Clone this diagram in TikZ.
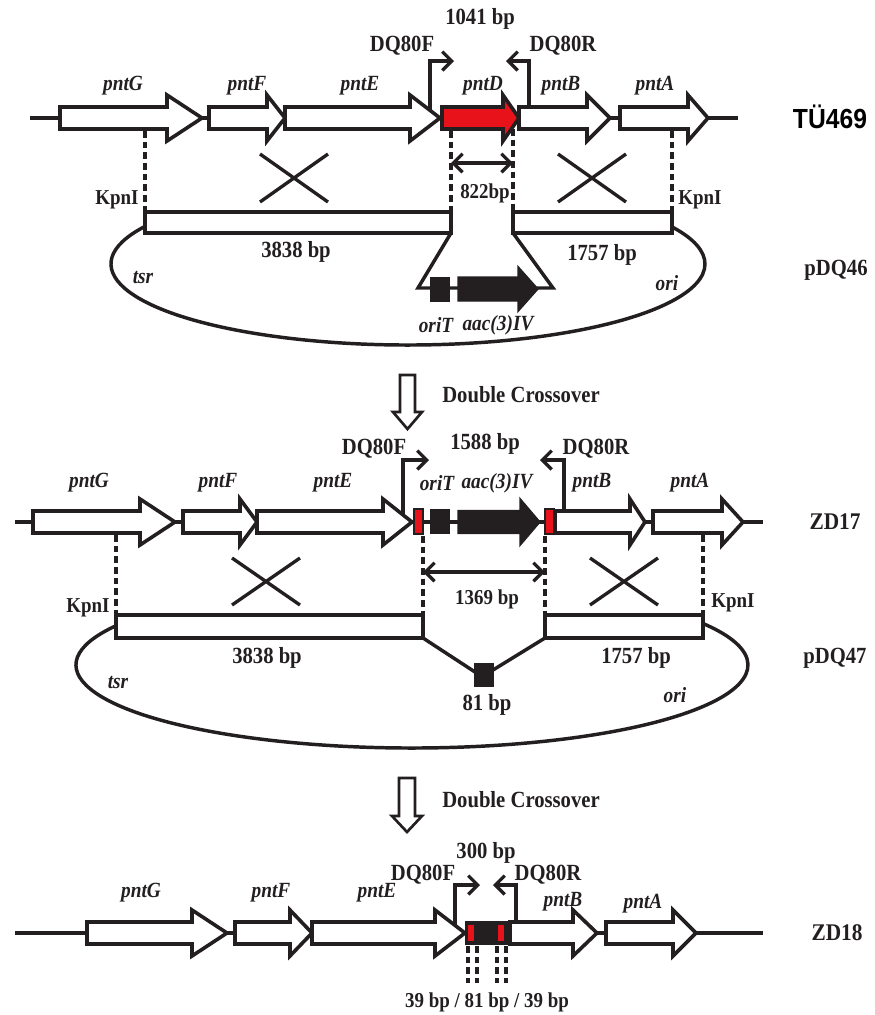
\documentclass[tikz,border=0pt]{standalone}
\usepackage{fontspec}
\setmainfont{Liberation Serif}
\newfontfamily\arialfont{Liberation Sans}
\usetikzlibrary{arrows.meta}
\definecolor{genered}{RGB}{232,18,26}
\definecolor{dk}{RGB}{35,31,32}
\newcommand\vs[1]{\scalebox{1}[1.12]{#1}}
% x1, x head start, x tip, y centre, body half height, head half height, style
\newcommand\arrowshape[7]{%
  \filldraw[#7] (#1,#4-#5) -- (#2,#4-#5) -- (#2,#4-#6) -- (#3,#4) -- (#2,#4+#6) -- (#2,#4+#5) -- (#1,#4+#5) -- cycle;}
\newcommand\genearrow[5]{\arrowshape{#1}{#2}{#3}{#4}{11}{23}{#5}}
\tikzset{
  gene/.style={draw=dk, line width=2.7pt, line join=miter, fill=white},
  redgene/.style={gene, fill=genered},
  darkgene/.style={draw=dk, fill=dk, line width=1pt, line join=miter},
  backbone/.style={draw=dk, line width=2.6pt},
  plas/.style={draw=dk, line width=2.6pt},
  dsh/.style={draw=dk, line width=2.3pt, dash pattern=on 5pt off 3pt},
  xline/.style={draw=dk, line width=2.5pt},
  primer/.style={draw=dk, line width=2.5pt, -{Straight Barb[length=7pt,width=14pt,line width=2.5pt]}},
  dbl/.style={draw=dk, line width=2.4pt, {Straight Barb[length=7pt,width=14pt,line width=2.4pt]}-{Straight Barb[length=7pt,width=14pt,line width=2.4pt]}},
  hollow/.style={draw=dk, line width=2pt, fill=white, line join=miter},
  lbl/.style={inner sep=0pt, text=dk, font=\fontsize{15.5}{18}\selectfont\bfseries},
  sml/.style={inner sep=0pt, text=dk, font=\fontsize{14.2}{17}\selectfont\bfseries},
  gn/.style={inner sep=0pt, text=dk, font=\fontsize{14.5}{17}\selectfont\bfseries\itshape},
  strain/.style={inner sep=0pt, text=dk, font=\fontsize{16}{19}\selectfont\bfseries},
}
\begin{document}
\begin{tikzpicture}[x=0.75pt, y=-0.75pt]
\useasboundingbox (0,0) rectangle (875,1015);

%================ TU469 ================
\draw[backbone] (30,118) -- (738,118);
\genearrow{60}{167}{202}{118}{gene}
\genearrow{209}{267}{285}{118}{gene}
\genearrow{285}{410}{440}{118}{gene}
\genearrow{442}{503}{519}{118}{redgene}
\genearrow{519}{587}{610}{118}{gene}
\genearrow{620}{688}{708}{118}{gene}
\node[gn] (g1G) at (123,86) {\vs{pntG}};
\node[gn] (g1F) at (247,86) {\vs{pntF}};
\node[gn] (g1E) at (360,86) {\vs{pntE}};
\node[gn] (g1D) at (483,86) {\vs{pntD}};
\node[gn] (g1B) at (561,86) {\vs{pntB}};
\node[gn] (g1A) at (655,86) {\vs{pntA}};
\node[font=\arialfont\fontsize{18.5}{22}\selectfont\bfseries, inner sep=0pt, text=black] (tu) at (830,117) {\vs{TÜ469}};
% primers
\coordinate (p1fa) at (430,111); \coordinate (p1fb) at (430,61); \coordinate (p1fc) at (454,61);
\coordinate (p1ra) at (529,106); \coordinate (p1rb) at (529,61); \coordinate (p1rc) at (506,61);
\draw[primer] (p1fa) -- (p1fb) -- (p1fc);
\draw[primer] (p1ra) -- (p1rb) -- (p1rc);
\node[lbl] (f1) at (402,46) {\vs{DQ80F}};
\node[lbl] (r1) at (563,46) {\vs{DQ80R}};
\node[lbl] (s1041) at (480,19) {\vs{1041 bp}};
% dashed
\draw[dsh] (145,131) -- (145,212);
\draw[dsh] (451,131) -- (451,212);
\draw[dsh] (513,129) -- (513,212);
\draw[dsh] (672,131) -- (672,212);
\coordinate (d1a) at (451,163); \coordinate (d1b) at (513,163);
\draw[dbl] (d1a) -- (d1b);
\node[sml] (s822) at (485,193) {\vs{822bp}};
% crosses
\draw[xline] (260,154) -- (328,202) (260,202) -- (328,154);
\draw[xline] (558,154) -- (626,202) (558,202) -- (626,154);
\node[sml] (k1l) at (117,200) {\vs{KpnI}};
\node[sml] (k1r) at (700,200) {\vs{KpnI}};
% plasmid pDQ46
\draw[plas] (408,264) ++(207.7:297 and 81) arc[start angle=207.7, end angle=-27.3, x radius=297, y radius=81];
\draw[gene] (145,212) rectangle (451,233);
\draw[gene] (513,212) rectangle (672,233);
\draw[plas, line join=miter] (451,233) -- (418,288) -- (553,288) -- (513,233);
\fill[dk] (430,277) rectangle (450,302);
\arrowshape{458}{518}{538}{289}{12}{22.5}{darkgene}
\node[lbl] (b3838a) at (296,252) {\vs{3838 bp}};
\node[lbl] (b1757a) at (602,255) {\vs{1757 bp}};
\node[gn] (tsr1) at (143,278) {\vs{tsr}};
\node[gn] (ori1) at (667,283) {\vs{ori}};
\node[gn] (oT1) at (436,325) {\vs{oriT}};
\node[gn] (aac1) at (498,325) {\vs{aac(3)IV}};
\node[lbl] (pdq46) at (836,270) {\vs{pDQ46}};

%================ Double crossover 1 ================
\filldraw[hollow] (400,375) -- (415,375) -- (415,412) -- (422,412) -- (407.5,429) -- (393,412) -- (400,412) -- cycle;
\node[lbl] (dc1) at (521,395) {\vs{Double Crossover}};

%================ ZD17 ================
\draw[backbone] (15,522) -- (763,522);
\genearrow{33}{140}{175}{522}{gene}
\genearrow{183}{240}{257}{522}{gene}
\genearrow{257}{383}{412}{522}{gene}
\filldraw[draw=dk, fill=genered, line width=2pt] (414,509) rectangle (423,534);
\fill[dk] (430,509) rectangle (450,534);
\arrowshape{458}{520}{540}{522}{11.5}{23.5}{darkgene}
\filldraw[draw=dk, fill=genered, line width=2pt] (545,509) rectangle (554,534);
\genearrow{555}{630}{645}{522}{gene}
\genearrow{653}{722}{743}{522}{gene}
\node[gn] (g2G) at (89,483) {\vs{pntG}};
\node[gn] (g2F) at (218,483) {\vs{pntF}};
\node[gn] (g2E) at (333,483) {\vs{pntE}};
\node[gn] (oT2) at (437,483) {\vs{oriT}};
\node[gn] (aac2) at (497,483) {\vs{aac(3)IV}};
\node[gn] (g2B) at (592,483) {\vs{pntB}};
\node[gn] (g2A) at (690,483) {\vs{pntA}};
\node[strain] (zd17) at (835,522) {\vs{ZD17}};
\coordinate (p2fa) at (403,514); \coordinate (p2fb) at (403,460); \coordinate (p2fc) at (429,460);
\coordinate (p2ra) at (564,509); \coordinate (p2rb) at (564,460); \coordinate (p2rc) at (540,460);
\draw[primer] (p2fa) -- (p2fb) -- (p2fc);
\draw[primer] (p2ra) -- (p2rb) -- (p2rc);
\node[lbl] (f2) at (374,449) {\vs{DQ80F}};
\node[lbl] (r2) at (596,449) {\vs{DQ80R}};
\node[lbl] (s1588) at (485,444) {\vs{1588 bp}};
\draw[dsh] (116,535) -- (116,615);
\draw[dsh] (423,536) -- (423,615);
\draw[dsh] (545,536) -- (545,615);
\draw[dsh] (703,535) -- (703,615);
\coordinate (d2a) at (423,572); \coordinate (d2b) at (545,572);
\draw[dbl] (d2a) -- (d2b);
\node[sml] (s1369) at (487,599) {\vs{1369 bp}};
\draw[xline] (232,558) -- (300,605) (232,605) -- (300,558);
\draw[xline] (590,558) -- (658,605) (590,605) -- (658,558);
\node[sml] (k2l) at (88,608) {\vs{KpnI}};
\node[sml] (k2r) at (733,603) {\vs{KpnI}};
% plasmid pDQ47
\draw[plas] (412,665) ++(208.2:336 and 83) arc[start angle=208.2, end angle=-30, x radius=336, y radius=83];
\draw[gene] (116,615) rectangle (423,638);
\draw[gene] (545,615) rectangle (703,638);
\draw[plas] (423,638) -- (475,672);
\draw[plas] (493,670) -- (545,638);
\fill[dk] (474,663) rectangle (494,687);
\node[lbl] (b3838b) at (267,658) {\vs{3838 bp}};
\node[lbl] (b1757b) at (636,658) {\vs{1757 bp}};
\node[gn] (tsr2) at (118,682) {\vs{tsr}};
\node[gn] (ori2) at (675,695) {\vs{ori}};
\node[lbl] (s81) at (487,705) {\vs{81 bp}};
\node[lbl] (pdq47) at (835,658) {\vs{pDQ47}};

%================ Double crossover 2 ================
\filldraw[hollow] (399,778) -- (415,778) -- (415,816) -- (422,816) -- (407,832) -- (392,816) -- (399,816) -- cycle;
\node[lbl] (dc2) at (521,800) {\vs{Double Crossover}};

%================ ZD18 ================
\draw[backbone] (15,933) -- (763,933);
\genearrow{87}{192}{227}{933}{gene}
\genearrow{235}{290}{312}{933}{gene}
\genearrow{312}{435}{465}{933}{gene}
\filldraw[draw=dk, fill=dk, line width=1pt] (466,922) rectangle (510,944);
\fill[genered] (468,925) rectangle (474,941);
\fill[genered] (498,925) rectangle (504,941);
\genearrow{510}{573}{597}{933}{gene}
\genearrow{606}{673}{696}{933}{gene}
\node[gn] (g3G) at (141,893) {\vs{pntG}};
\node[gn] (g3F) at (271,893) {\vs{pntF}};
\node[gn] (g3E) at (377,893) {\vs{pntE}};
\node[gn] (g3B) at (563,902) {\vs{pntB}};
\node[gn] (g3A) at (643,904) {\vs{pntA}};
\node[strain] (zd18) at (837,933) {\vs{ZD18}};
\coordinate (p3fa) at (455,925); \coordinate (p3fb) at (455,885); \coordinate (p3fc) at (480,885);
\coordinate (p3ra) at (516,922); \coordinate (p3rb) at (516,885); \coordinate (p3rc) at (493,885);
\draw[primer] (p3fa) -- (p3fb) -- (p3fc);
\draw[primer] (p3ra) -- (p3rb) -- (p3rc);
\node[lbl] (f3) at (423,875) {\vs{DQ80F}};
\node[lbl] (r3) at (548,875) {\vs{DQ80R}};
\node[lbl] (s300) at (486,853) {\vs{300 bp}};
\draw[dsh] (468,946) -- (468,983);
\draw[dsh] (477,946) -- (477,983);
\draw[dsh] (497,946) -- (497,983);
\draw[dsh] (506,946) -- (506,983);
\node[sml] (s39) at (487,1002) {\vs{39 bp / 81 bp / 39 bp}};
\end{tikzpicture}
\end{document}
